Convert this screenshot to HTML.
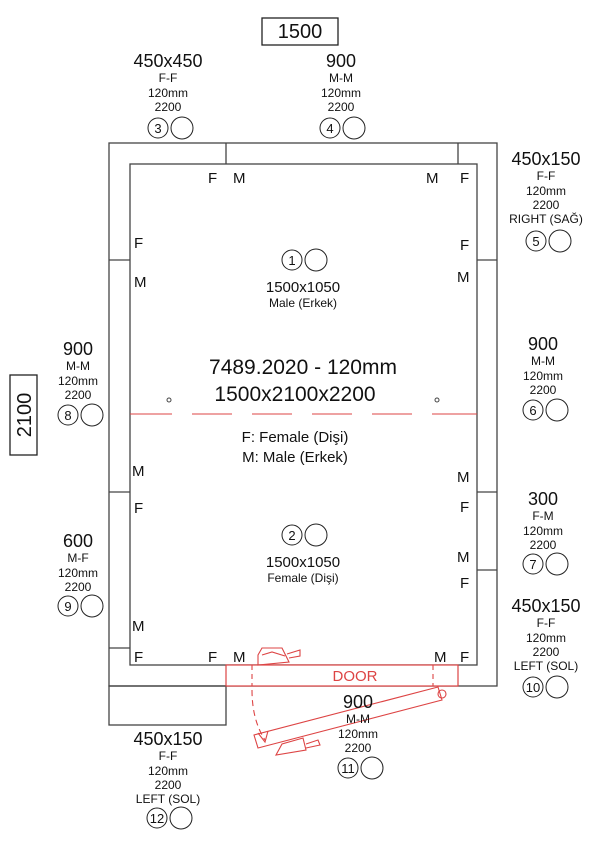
<!DOCTYPE html><html><head><style>body{margin:0;background:#fff}svg{display:block}text{font-family:"Liberation Sans",sans-serif;fill:#111}</style></head><body>
<svg width="601" height="850" viewBox="0 0 601 850">
<g fill="none" stroke="#444" stroke-width="1.3">
<rect x="109" y="143" width="388" height="543"/>
<rect x="130" y="164" width="347" height="501" fill="#fff"/>
<line x1="226" y1="143" x2="226" y2="164"/><line x1="458" y1="143" x2="458" y2="164"/>
<line x1="109" y1="260" x2="130" y2="260"/><line x1="109" y1="492" x2="130" y2="492"/><line x1="109" y1="648" x2="130" y2="648"/>
<line x1="477" y1="260" x2="497" y2="260"/><line x1="477" y1="492" x2="497" y2="492"/><line x1="477" y1="570" x2="497" y2="570"/>
<rect x="109" y="686" width="117" height="39"/>
<rect x="262" y="18" width="76" height="27" stroke="#222"/>
<rect x="10" y="375" width="27" height="80" stroke="#222"/>
</g>
<rect x="226" y="665" width="232" height="21" fill="#fff" stroke="#d44" stroke-width="1.2"/>
<g stroke="#d44" fill="none" stroke-width="1.1">
<line x1="252" y1="665" x2="252" y2="686" stroke-dasharray="5,4"/><line x1="433" y1="665" x2="433" y2="686" stroke-dasharray="5,4"/>
<path d="M252 690 Q252 720 265 740" stroke-dasharray="6,4"/><path d="M258 733 L265 742 L268 731"/>
<polygon points="254,735 438,687 442,700 258,748"/>
<circle cx="442" cy="694" r="4"/>
<path d="M258 655 L262 648 L282 648 L287 658 L289 662 L258 665 Z"/><path d="M262 655 L272 652 L285 656"/><path d="M287 654 L300 650 L300 656 L289 658"/>
<path d="M276 755 L282 744 L303 738 L306 750 Z"/><path d="M306 744 L318 740 L320 745 L306 748"/>
<path d="M130 414 H172 M192 414 H232 M252 414 H292 M312 414 H352 M372 414 H412 M432 414 H477"/>
</g>
<circle cx="169" cy="400" r="2" fill="none" stroke="#444"/><circle cx="437" cy="400" r="2" fill="none" stroke="#444"/>
<text x="300" y="38" font-size="20" text-anchor="middle">1500</text>
<text x="31" y="415" font-size="20" text-anchor="middle" transform="rotate(-90 31 415)" dy="0">2100</text>
<g font-size="15">
<text x="208" y="183">F</text><text x="233" y="183">M</text><text x="426" y="183">M</text><text x="460" y="183">F</text>
<text x="134" y="248">F</text><text x="134" y="287">M</text><text x="460" y="250">F</text><text x="457" y="282">M</text>
<text x="132" y="476">M</text><text x="134" y="513">F</text><text x="457" y="482">M</text><text x="460" y="512">F</text>
<text x="457" y="562">M</text><text x="460" y="588">F</text>
<text x="132" y="631">M</text><text x="134" y="662">F</text><text x="208" y="662">F</text><text x="233" y="662">M</text><text x="434" y="662">M</text><text x="460" y="662">F</text>
</g>
<text x="355" y="681" font-size="15" text-anchor="middle" style="fill:#d44">DOOR</text>
<g text-anchor="middle">
<text x="303" y="374" font-size="21">7489.2020 - 120mm</text>
<text x="295" y="401" font-size="21">1500x2100x2200</text>
<text x="295" y="442" font-size="15">F: Female (Dişi)</text>
<text x="295" y="462" font-size="15">M: Male (Erkek)</text>
<text x="303" y="292" font-size="15">1500x1050</text><text x="303" y="307" font-size="12">Male (Erkek)</text>
<text x="303" y="567" font-size="15">1500x1050</text><text x="303" y="582" font-size="12">Female (Dişi)</text>
<g font-size="12">
<text x="168" y="67" font-size="18">450x450</text><text x="168" y="82">F-F</text><text x="168" y="97">120mm</text><text x="168" y="111">2200</text>
<text x="341" y="67" font-size="18">900</text><text x="341" y="82">M-M</text><text x="341" y="97">120mm</text><text x="341" y="111">2200</text>
<text x="546" y="165" font-size="18">450x150</text><text x="546" y="180">F-F</text><text x="546" y="195">120mm</text><text x="546" y="209">2200</text><text x="546" y="223">RIGHT (SAĞ)</text>
<text x="543" y="350" font-size="18">900</text><text x="543" y="365">M-M</text><text x="543" y="380">120mm</text><text x="543" y="394">2200</text>
<text x="543" y="505" font-size="18">300</text><text x="543" y="520">F-M</text><text x="543" y="535">120mm</text><text x="543" y="549">2200</text>
<text x="546" y="612" font-size="18">450x150</text><text x="546" y="627">F-F</text><text x="546" y="642">120mm</text><text x="546" y="656">2200</text><text x="546" y="670">LEFT (SOL)</text>
<text x="78" y="355" font-size="18">900</text><text x="78" y="370">M-M</text><text x="78" y="385">120mm</text><text x="78" y="399">2200</text>
<text x="78" y="547" font-size="18">600</text><text x="78" y="562">M-F</text><text x="78" y="577">120mm</text><text x="78" y="591">2200</text>
<text x="168" y="745" font-size="18">450x150</text><text x="168" y="760">F-F</text><text x="168" y="775">120mm</text><text x="168" y="789">2200</text><text x="168" y="803">LEFT (SOL)</text>
<text x="358" y="708" font-size="18">900</text><text x="358" y="723">M-M</text><text x="358" y="738">120mm</text><text x="358" y="752">2200</text>
</g>
<g font-size="13" stroke="none">
<text x="158" y="133">3</text><text x="330" y="133">4</text><text x="536" y="246">5</text><text x="533" y="415">6</text><text x="533" y="569">7</text><text x="533" y="692">10</text><text x="68" y="420">8</text><text x="68" y="611">9</text><text x="157" y="823">12</text><text x="348" y="773">11</text><text x="292" y="265">1</text><text x="292" y="540">2</text>
</g>
</g>
<g fill="none" stroke="#222" stroke-width="1">
<circle cx="158" cy="128" r="10"/><circle cx="182" cy="128" r="11"/>
<circle cx="330" cy="128" r="10"/><circle cx="354" cy="128" r="11"/>
<circle cx="536" cy="241" r="10"/><circle cx="560" cy="241" r="11"/>
<circle cx="533" cy="410" r="10"/><circle cx="557" cy="410" r="11"/>
<circle cx="533" cy="564" r="10"/><circle cx="557" cy="564" r="11"/>
<circle cx="533" cy="687" r="10"/><circle cx="557" cy="687" r="11"/>
<circle cx="68" cy="415" r="10"/><circle cx="92" cy="415" r="11"/>
<circle cx="68" cy="606" r="10"/><circle cx="92" cy="606" r="11"/>
<circle cx="157" cy="818" r="10"/><circle cx="181" cy="818" r="11"/>
<circle cx="348" cy="768" r="10"/><circle cx="372" cy="768" r="11"/>
<circle cx="292" cy="260" r="10"/><circle cx="316" cy="260" r="11"/>
<circle cx="292" cy="535" r="10"/><circle cx="316" cy="535" r="11"/>
</g>
</svg></body></html>
